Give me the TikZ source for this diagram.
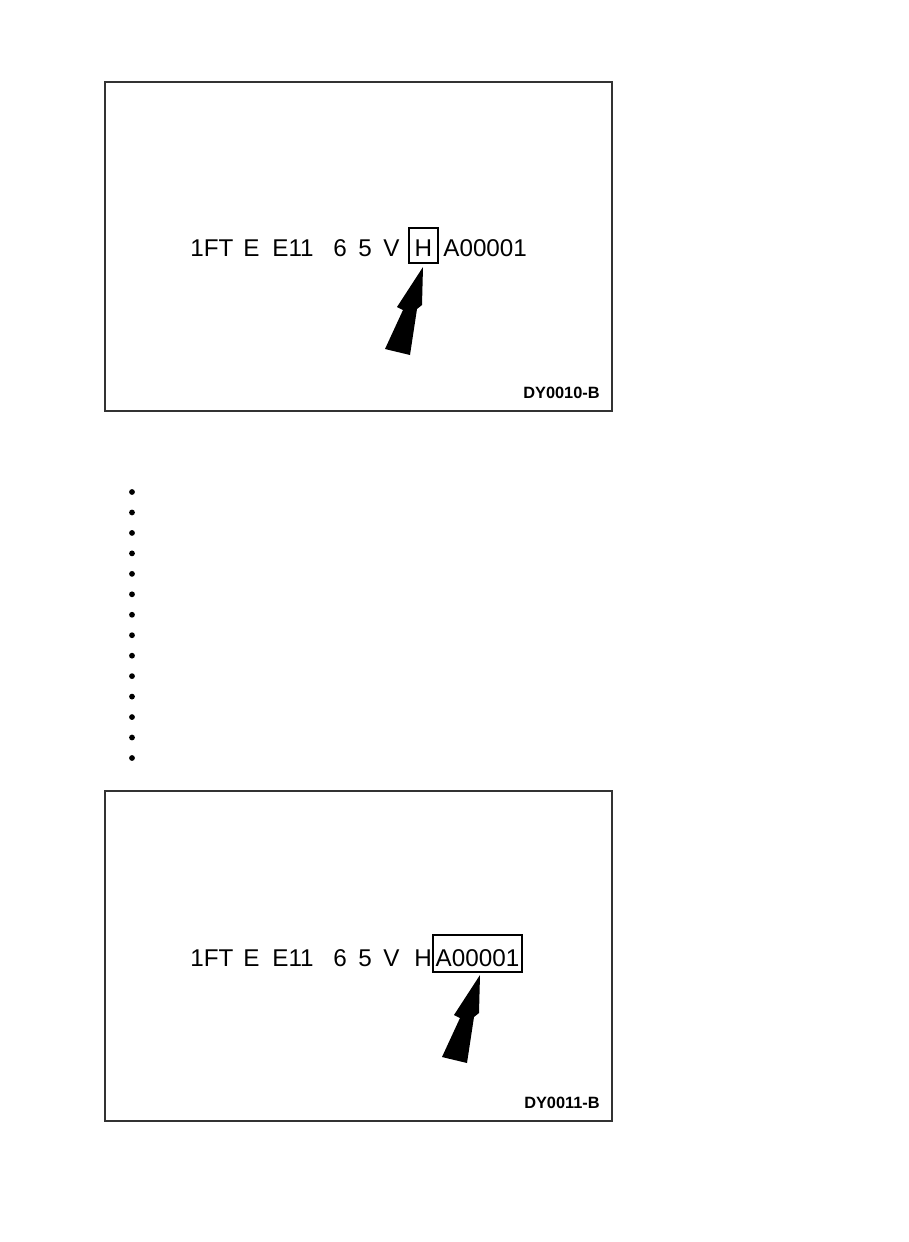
\documentclass[tikz,border=0pt]{standalone}
\usepackage{fontspec}
\setmainfont{Liberation Sans}
\begin{document}
\begin{tikzpicture}[x=0.02cm,y=-0.02cm,
  code/.style={anchor=base west,inner sep=0pt,font=\fontsize{13.8}{16}\selectfont},
  framed/.style={code,anchor=base,draw,line width=1.1pt,inner xsep=0pt,inner ysep=0.06cm},
  tag/.style={anchor=base east,inner sep=0pt,font=\fontsize{9.3}{11}\selectfont\bfseries},
  panel/.style={draw=black!80,line width=0.85pt},
  pointer/.style={fill=black}]
\useasboundingbox (0,0) rectangle (909,1242);
% upper panel
\draw[panel] (105,82) rectangle (612,411);
\node[code] (a1) at (190,256) {1FT};
\node[code] (a2) at (243,256) {E};
\node[code] (a3) at (272,256) {E11};
\node[code] (a4) at (333,256) {6};
\node[code] (a5) at (358,256) {5};
\node[code] (a6) at (383,256) {V};
\node[framed,minimum width=0.58cm,text height=0.5cm,text depth=0.08cm] (a7) at (423.5,256) {H};
\node[code] (a8) at (443,256) {A00001};
\fill[pointer,shift={(423,267)}] (0,0) -- (-26,40) -- (-20,43) -- (-38,82) -- (-13,88) -- (-6,42) -- (-1,38) -- cycle;
\node[tag] (t1) at (600,398) {DY0010-B};
% dots
\foreach \i in {0,...,13}
  \fill (132,492+20.46*\i) circle (2.9);
% lower panel
\draw[panel] (105,791) rectangle (612,1121);
\node[code] (b1) at (190,966) {1FT};
\node[code] (b2) at (243,966) {E};
\node[code] (b3) at (272,966) {E11};
\node[code] (b4) at (333,966) {6};
\node[code] (b5) at (358,966) {5};
\node[code] (b6) at (383,966) {V};
\node[code] (b7) at (414,966) {H};
\node[framed,minimum width=1.78cm,text height=0.56cm,text depth=0.06cm] (b8) at (477.5,966) {A00001};
\fill[pointer,shift={(480,975)}] (0,0) -- (-26,40) -- (-20,43) -- (-38,82) -- (-13,88) -- (-6,42) -- (-1,38) -- cycle;
\node[tag] (t2) at (600,1108) {DY0011-B};
\end{tikzpicture}
\end{document}
